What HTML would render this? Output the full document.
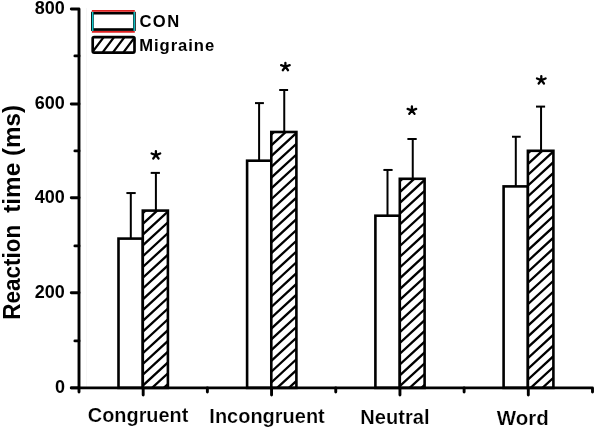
<!DOCTYPE html>
<html><head><meta charset="utf-8"><style>
html,body{margin:0;padding:0;background:#fff;width:596px;height:429px;overflow:hidden}
svg{display:block;will-change:transform}
text{font-family:"Liberation Sans",sans-serif}
</style></head><body>
<svg width="596" height="429" viewBox="0 0 596 429">
<rect width="596" height="429" fill="#fff"/>
<defs><clipPath id="c1"><rect x="142.8" y="210.6" width="25.10" height="177.30"/></clipPath><clipPath id="c3"><rect x="271.3" y="132.0" width="25.10" height="255.90"/></clipPath><clipPath id="c5"><rect x="399.8" y="178.8" width="24.80" height="209.10"/></clipPath><clipPath id="c7"><rect x="527.9" y="150.8" width="25.50" height="237.10"/></clipPath><clipPath id="cl"><rect x="92.7" y="37.2" width="41.8" height="15.4"/></clipPath></defs>
<line x1="86.5" y1="8" x2="86.5" y2="388" stroke="#f6f6f6" stroke-width="1"/>
<line x1="130.8" y1="238.6" x2="130.8" y2="193.05" stroke="#000" stroke-width="2.0"/>
<line x1="126.4" y1="193.05" x2="135.7" y2="193.05" stroke="#000" stroke-width="2.0"/>
<line x1="155.9" y1="210.6" x2="155.9" y2="172.9" stroke="#000" stroke-width="2.0"/>
<line x1="150.7" y1="172.9" x2="159.9" y2="172.9" stroke="#000" stroke-width="2.0"/>
<line x1="259.1" y1="160.7" x2="259.1" y2="103.1" stroke="#000" stroke-width="2.0"/>
<line x1="255.0" y1="103.1" x2="263.9" y2="103.1" stroke="#000" stroke-width="2.0"/>
<line x1="284.25" y1="132.0" x2="284.25" y2="90.0" stroke="#000" stroke-width="2.0"/>
<line x1="279.2" y1="90.0" x2="288.1" y2="90.0" stroke="#000" stroke-width="2.0"/>
<line x1="387.5" y1="215.7" x2="387.5" y2="169.95" stroke="#000" stroke-width="2.0"/>
<line x1="383.4" y1="169.95" x2="392.6" y2="169.95" stroke="#000" stroke-width="2.0"/>
<line x1="412.75" y1="178.8" x2="412.75" y2="139.0" stroke="#000" stroke-width="2.0"/>
<line x1="407.4" y1="139.0" x2="416.7" y2="139.0" stroke="#000" stroke-width="2.0"/>
<line x1="515.8" y1="186.4" x2="515.8" y2="136.75" stroke="#000" stroke-width="2.0"/>
<line x1="512.0" y1="136.75" x2="520.7" y2="136.75" stroke="#000" stroke-width="2.0"/>
<line x1="541.05" y1="150.8" x2="541.05" y2="106.6" stroke="#000" stroke-width="2.0"/>
<line x1="536.0" y1="106.6" x2="545.1" y2="106.6" stroke="#000" stroke-width="2.0"/>
<rect x="118.5" y="238.6" width="24.30" height="149.30" fill="#fff"/>
<rect x="118.5" y="238.6" width="24.30" height="149.30" fill="none" stroke="#000" stroke-width="2.6"/>
<rect x="142.8" y="210.6" width="25.10" height="177.30" fill="#fff"/>
<path clip-path="url(#c1)" d="M140.80,193.39L169.90,166.62M140.80,204.17L169.90,177.40M140.80,214.95L169.90,188.18M140.80,225.73L169.90,198.96M140.80,236.51L169.90,209.74M140.80,247.29L169.90,220.52M140.80,258.07L169.90,231.30M140.80,268.85L169.90,242.08M140.80,279.63L169.90,252.86M140.80,290.41L169.90,263.64M140.80,301.19L169.90,274.42M140.80,311.97L169.90,285.20M140.80,322.75L169.90,295.98M140.80,333.53L169.90,306.76M140.80,344.31L169.90,317.54M140.80,355.09L169.90,328.32M140.80,365.87L169.90,339.10M140.80,376.65L169.90,349.88M140.80,387.43L169.90,360.66M140.80,398.21L169.90,371.44M140.80,408.99L169.90,382.22M140.80,419.77L169.90,393.00M140.80,430.55L169.90,403.78" stroke="#000" stroke-width="2.3" fill="none"/>
<rect x="142.8" y="210.6" width="25.10" height="177.30" fill="none" stroke="#000" stroke-width="2.6"/>
<rect x="247.1" y="160.7" width="24.20" height="227.20" fill="#fff"/>
<rect x="247.1" y="160.7" width="24.20" height="227.20" fill="none" stroke="#000" stroke-width="2.6"/>
<rect x="271.3" y="132.0" width="25.10" height="255.90" fill="#fff"/>
<path clip-path="url(#c3)" d="M269.30,114.79L298.40,88.02M269.30,125.57L298.40,98.80M269.30,136.35L298.40,109.58M269.30,147.13L298.40,120.36M269.30,157.91L298.40,131.14M269.30,168.69L298.40,141.92M269.30,179.47L298.40,152.70M269.30,190.25L298.40,163.48M269.30,201.03L298.40,174.26M269.30,211.81L298.40,185.04M269.30,222.59L298.40,195.82M269.30,233.37L298.40,206.60M269.30,244.15L298.40,217.38M269.30,254.93L298.40,228.16M269.30,265.71L298.40,238.94M269.30,276.49L298.40,249.72M269.30,287.27L298.40,260.50M269.30,298.05L298.40,271.28M269.30,308.83L298.40,282.06M269.30,319.61L298.40,292.84M269.30,330.39L298.40,303.62M269.30,341.17L298.40,314.40M269.30,351.95L298.40,325.18M269.30,362.73L298.40,335.96M269.30,373.51L298.40,346.74M269.30,384.29L298.40,357.52M269.30,395.07L298.40,368.30M269.30,405.85L298.40,379.08M269.30,416.63L298.40,389.86M269.30,427.41L298.40,400.64" stroke="#000" stroke-width="2.3" fill="none"/>
<rect x="271.3" y="132.0" width="25.10" height="255.90" fill="none" stroke="#000" stroke-width="2.6"/>
<rect x="375.4" y="215.7" width="24.40" height="172.20" fill="#fff"/>
<rect x="375.4" y="215.7" width="24.40" height="172.20" fill="none" stroke="#000" stroke-width="2.6"/>
<rect x="399.8" y="178.8" width="24.80" height="209.10" fill="#fff"/>
<path clip-path="url(#c5)" d="M397.80,161.59L426.60,135.09M397.80,172.37L426.60,145.87M397.80,183.15L426.60,156.65M397.80,193.93L426.60,167.43M397.80,204.71L426.60,178.21M397.80,215.49L426.60,188.99M397.80,226.27L426.60,199.77M397.80,237.05L426.60,210.55M397.80,247.83L426.60,221.33M397.80,258.61L426.60,232.11M397.80,269.39L426.60,242.89M397.80,280.17L426.60,253.67M397.80,290.95L426.60,264.45M397.80,301.73L426.60,275.23M397.80,312.51L426.60,286.01M397.80,323.29L426.60,296.79M397.80,334.07L426.60,307.57M397.80,344.85L426.60,318.35M397.80,355.63L426.60,329.13M397.80,366.41L426.60,339.91M397.80,377.19L426.60,350.69M397.80,387.97L426.60,361.47M397.80,398.75L426.60,372.25M397.80,409.53L426.60,383.03M397.80,420.31L426.60,393.81M397.80,431.09L426.60,404.59" stroke="#000" stroke-width="2.3" fill="none"/>
<rect x="399.8" y="178.8" width="24.80" height="209.10" fill="none" stroke="#000" stroke-width="2.6"/>
<rect x="503.6" y="186.4" width="24.30" height="201.50" fill="#fff"/>
<rect x="503.6" y="186.4" width="24.30" height="201.50" fill="none" stroke="#000" stroke-width="2.6"/>
<rect x="527.9" y="150.8" width="25.50" height="237.10" fill="#fff"/>
<path clip-path="url(#c7)" d="M525.90,133.59L555.40,106.45M525.90,144.37L555.40,117.23M525.90,155.15L555.40,128.01M525.90,165.93L555.40,138.79M525.90,176.71L555.40,149.57M525.90,187.49L555.40,160.35M525.90,198.27L555.40,171.13M525.90,209.05L555.40,181.91M525.90,219.83L555.40,192.69M525.90,230.61L555.40,203.47M525.90,241.39L555.40,214.25M525.90,252.17L555.40,225.03M525.90,262.95L555.40,235.81M525.90,273.73L555.40,246.59M525.90,284.51L555.40,257.37M525.90,295.29L555.40,268.15M525.90,306.07L555.40,278.93M525.90,316.85L555.40,289.71M525.90,327.63L555.40,300.49M525.90,338.41L555.40,311.27M525.90,349.19L555.40,322.05M525.90,359.97L555.40,332.83M525.90,370.75L555.40,343.61M525.90,381.53L555.40,354.39M525.90,392.31L555.40,365.17M525.90,403.09L555.40,375.95M525.90,413.87L555.40,386.73M525.90,424.65L555.40,397.51" stroke="#000" stroke-width="2.3" fill="none"/>
<rect x="527.9" y="150.8" width="25.50" height="237.10" fill="none" stroke="#000" stroke-width="2.6"/>
<path d="M71.3,9.0 H79.0 V387.9" fill="none" stroke="#000" stroke-width="2.9" stroke-linejoin="round" stroke-linecap="round"/>
<line x1="71.3" y1="104.0" x2="79.0" y2="104.0" stroke="#000" stroke-width="2.9" stroke-linecap="round"/>
<line x1="71.3" y1="197.8" x2="79.0" y2="197.8" stroke="#000" stroke-width="2.9" stroke-linecap="round"/>
<line x1="71.3" y1="292.8" x2="79.0" y2="292.8" stroke="#000" stroke-width="2.9" stroke-linecap="round"/>
<line x1="71.3" y1="387.9" x2="79.0" y2="387.9" stroke="#000" stroke-width="2.9" stroke-linecap="round"/>
<line x1="74.9" y1="55.9" x2="79.0" y2="55.9" stroke="#000" stroke-width="2.9" stroke-linecap="round"/>
<line x1="74.9" y1="150.9" x2="79.0" y2="150.9" stroke="#000" stroke-width="2.9" stroke-linecap="round"/>
<line x1="74.9" y1="245.9" x2="79.0" y2="245.9" stroke="#000" stroke-width="2.9" stroke-linecap="round"/>
<line x1="74.9" y1="340.9" x2="79.0" y2="340.9" stroke="#000" stroke-width="2.9" stroke-linecap="round"/>
<path d="M71.3,387.9 H592.5 V392.0" fill="none" stroke="#000" stroke-width="2.9" stroke-linejoin="round" stroke-linecap="round"/>
<line x1="79.00" y1="387.9" x2="79.00" y2="392.0" stroke="#000" stroke-width="2.9" stroke-linecap="round"/>
<line x1="143.19" y1="387.9" x2="143.19" y2="395.0" stroke="#000" stroke-width="2.9" stroke-linecap="round"/>
<line x1="207.38" y1="387.9" x2="207.38" y2="392.0" stroke="#000" stroke-width="2.9" stroke-linecap="round"/>
<line x1="271.56" y1="387.9" x2="271.56" y2="395.0" stroke="#000" stroke-width="2.9" stroke-linecap="round"/>
<line x1="335.75" y1="387.9" x2="335.75" y2="392.0" stroke="#000" stroke-width="2.9" stroke-linecap="round"/>
<line x1="399.94" y1="387.9" x2="399.94" y2="395.0" stroke="#000" stroke-width="2.9" stroke-linecap="round"/>
<line x1="464.12" y1="387.9" x2="464.12" y2="392.0" stroke="#000" stroke-width="2.9" stroke-linecap="round"/>
<line x1="528.31" y1="387.9" x2="528.31" y2="395.0" stroke="#000" stroke-width="2.9" stroke-linecap="round"/>
<text x="64.9" y="14.2" font-family="Liberation Sans" font-weight="bold" font-size="18" text-anchor="end">800</text>
<text x="64.9" y="109.2" font-family="Liberation Sans" font-weight="bold" font-size="18" text-anchor="end">600</text>
<text x="64.9" y="203.0" font-family="Liberation Sans" font-weight="bold" font-size="18" text-anchor="end">400</text>
<text x="64.9" y="298.0" font-family="Liberation Sans" font-weight="bold" font-size="18" text-anchor="end">200</text>
<text x="64.9" y="393.1" font-family="Liberation Sans" font-weight="bold" font-size="18" text-anchor="end">0</text>
<path d="M155.9,155.1l0.00,-4.00M155.9,155.1l4.29,-1.65M155.9,155.1l-4.29,-1.65M155.9,155.1l2.65,3.39M155.9,155.1l-2.65,3.39" stroke="#000" stroke-width="2.3" stroke-linecap="round" fill="none"/>
<circle cx="155.9" cy="155.1" r="1.7" fill="#000"/>
<path d="M285.4,66.8l0.00,-4.00M285.4,66.8l4.29,-1.65M285.4,66.8l-4.29,-1.65M285.4,66.8l2.65,3.39M285.4,66.8l-2.65,3.39" stroke="#000" stroke-width="2.3" stroke-linecap="round" fill="none"/>
<circle cx="285.4" cy="66.8" r="1.7" fill="#000"/>
<path d="M411.9,110.5l0.00,-4.00M411.9,110.5l4.29,-1.65M411.9,110.5l-4.29,-1.65M411.9,110.5l2.65,3.39M411.9,110.5l-2.65,3.39" stroke="#000" stroke-width="2.3" stroke-linecap="round" fill="none"/>
<circle cx="411.9" cy="110.5" r="1.7" fill="#000"/>
<path d="M541.3,80.1l0.00,-4.00M541.3,80.1l4.29,-1.65M541.3,80.1l-4.29,-1.65M541.3,80.1l2.65,3.39M541.3,80.1l-2.65,3.39" stroke="#000" stroke-width="2.3" stroke-linecap="round" fill="none"/>
<circle cx="541.3" cy="80.1" r="1.7" fill="#000"/>
<rect x="92.4" y="13.15" width="42.0" height="16.4" fill="#fff" stroke="#000" stroke-width="2.7"/>
<line x1="91.9" y1="10.9" x2="134.8" y2="10.9" stroke="#e02020" stroke-width="1.9"/>
<line x1="91.9" y1="31.9" x2="134.8" y2="31.9" stroke="#e02020" stroke-width="1.8"/>
<line x1="92.65" y1="12.0" x2="92.65" y2="31.1" stroke="#10c8cc" stroke-width="1.5"/>
<line x1="134.25" y1="12.0" x2="134.25" y2="31.1" stroke="#10c8cc" stroke-width="1.4"/>
<path clip-path="url(#cl)" d="M94.88,35.0L79.84,55.0M105.28,35.0L90.24,55.0M115.68,35.0L100.64,55.0M126.08,35.0L111.04,55.0M136.48,35.0L121.44,55.0" stroke="#000" stroke-width="2.2" fill="none"/>
<rect x="92.7" y="37.2" width="41.8" height="15.4" rx="1.5" fill="none" stroke="#000" stroke-width="2.7"/>
<text x="139.4" y="26.9" font-family="Liberation Sans" font-weight="bold" font-size="16.6" letter-spacing="1.5">CON</text>
<text x="139.3" y="50.7" font-family="Liberation Sans" font-weight="bold" font-size="16.6" letter-spacing="0.94">Migraine</text>
<text x="0" y="0" font-family="Liberation Sans" font-weight="bold" font-size="20.3" text-anchor="middle" transform="translate(138.1 421.6) scale(0.98 1)" stroke="#fff" stroke-width="0.2">Congruent</text>
<text x="0" y="0" font-family="Liberation Sans" font-weight="bold" font-size="20.3" text-anchor="middle" transform="translate(267.05 422.9) scale(0.985 1)" stroke="#fff" stroke-width="0.2">Incongruent</text>
<text x="0" y="0" font-family="Liberation Sans" font-weight="bold" font-size="20.3" text-anchor="middle" transform="translate(394.95 423.8) scale(0.99 1)" stroke="#fff" stroke-width="0.2">Neutral</text>
<text x="0" y="0" font-family="Liberation Sans" font-weight="bold" font-size="20.3" text-anchor="middle" transform="translate(522.7 424.5) scale(1.01 1)" stroke="#fff" stroke-width="0.2">Word</text>
<text x="0" y="0" font-family="Liberation Sans" font-weight="bold" font-size="24.3" transform="translate(20.2 319.7) rotate(-90) scale(0.925 1)">Reaction</text>
<text x="0" y="0" font-family="Liberation Sans" font-weight="bold" font-size="24.3" transform="translate(20.2 212.8) rotate(-90)">time (ms)</text>
</svg>
</body></html>
